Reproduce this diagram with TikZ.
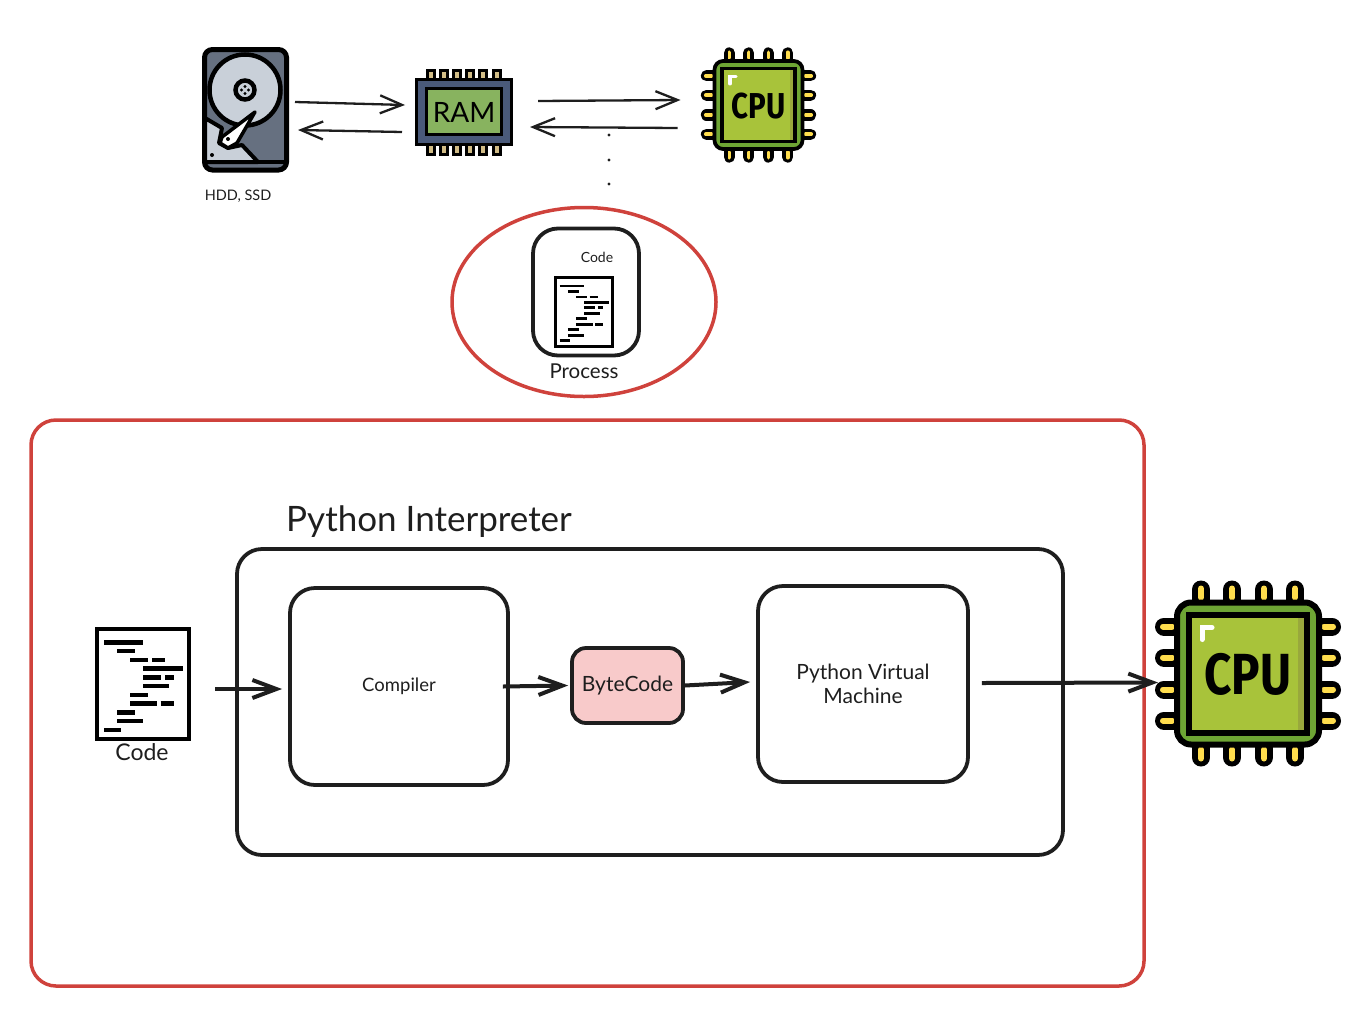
\documentclass[tikz,border=0pt]{standalone}
\usepackage{fontspec}
\usetikzlibrary{arrows.meta,shapes.geometric}
\setmainfont{Lato}
\newfontfamily\chipfont[FakeStretch=0.82]{Fira Sans}
\definecolor{redline}{HTML}{CF423C}
\definecolor{inkline}{HTML}{1E1E1E}
\definecolor{chipgreen}{HTML}{6EA534}
\definecolor{chiplime}{HTML}{A8C33A}
\definecolor{chipshade}{HTML}{99A83C}
\definecolor{chippin}{HTML}{FFDD4D}
\definecolor{diskdark}{HTML}{667080}
\definecolor{disklight}{HTML}{C9D0D9}
\definecolor{ramblue}{HTML}{4A5A7A}
\definecolor{ramgreen}{HTML}{88B35F}
\definecolor{rampin}{HTML}{D2BD87}
\definecolor{bytepink}{HTML}{F8CACA}
\tikzset{
  pics/cpuchip/.style={code={
    \begin{scope}[scale=#1, black]
    \foreach \p in {-47,-16,16,47} {
      \draw[line width=#1*18pt, line cap=round] (\p,-84) -- (\p,-70);
      \draw[line width=#1*18pt, line cap=round] (\p,84) -- (\p,70);
      \draw[line width=#1*18pt, line cap=round] (-84,\p) -- (-70,\p);
      \draw[line width=#1*18pt, line cap=round] (84,\p) -- (70,\p);
      \draw[line width=#1*6pt, line cap=round, chippin] (\p,-85) -- (\p,-76);
      \draw[line width=#1*6pt, line cap=round, chippin] (\p,85) -- (\p,76);
      \draw[line width=#1*6pt, line cap=round, chippin] (-85,\p) -- (-76,\p);
      \draw[line width=#1*6pt, line cap=round, chippin] (85,\p) -- (76,\p);
    }
    \draw[line width=#1*6pt, rounded corners=#1*14pt, fill=chipgreen] (-71,-71) rectangle (71,71);
    \draw[line width=#1*6pt, fill=chiplime] (-59,-59) rectangle (59,59);
    \fill[chipshade] (50,-56) rectangle (56,56);
    \draw[line width=#1*5pt, white, line cap=round] (-46,-34) -- (-46,-46) -- (-36,-46);
    \end{scope}
  }},
  pics/codepage/.style={code={
    \begin{scope}[scale=#1, black]
    \draw[line width=#1*4.5pt, fill=white] (-46,-55) rectangle (46,55);
    \foreach \a/\b/\c in {-39/0.3/-41.7, -26/-8.3/-33, -13/4.7/-24, 9/22.3/-24,
        0.3/39.7/-15.3, 0.3/17.7/-6.7, 22/31/-6.7, 0.3/26.3/2, -13/4.7/11,
        -13/13.7/19.7, 17.7/31/19.7, -26/-8.3/28.3, -26/0.3/37, -39/-21.7/46}
      \draw[line width=#1*4.5pt] (\a,\c) -- (\b,\c);
    \end{scope}
  }}
}
\begin{document}
\begin{tikzpicture}[x=1pt, y=-1pt, inkline,
  sketchbox/.style={draw=inkline, line width=3.8pt, rounded corners=25pt},
  redbox/.style={draw=redline, line width=3.5pt},
  thinarrow/.style={-{Straight Barb[length=22pt, width=18pt]}, line width=2.3pt},
  thickarrow/.style={-{Straight Barb[length=24pt, width=18pt]}, line width=4pt},
  iconnode/.style={inner sep=0pt, outer sep=0pt},
  hand/.style={inner sep=0pt, text=inkline, align=center}]
\useasboundingbox (0,0) rectangle (1356,1020);

% Disco
\draw[line width=5pt, rounded corners=8pt, fill=diskdark, draw=black] (204.5,49.5) rectangle (286.5,170);
\draw[line width=4.5pt, draw=black, fill=disklight] (245,90) circle (35.5);
\draw[line width=4pt, draw=black, fill=disklight, line join=round] (205,118) -- (222,128) -- (219,143) -- (228,148) -- (242,145) -- (258,162) -- (205,162) -- cycle;
\draw[line width=3.5pt, draw=black, fill=white, line join=round] (255,112) -- (222,137) -- (220,143) -- (228,148) -- (237,143) -- cycle;
\draw[line width=4.5pt, draw=black, fill=disklight] (245,90) circle (9.5);
\foreach \a in {0,90,180,270}
  \fill[black] (245,90) ++(\a:3.5) circle (1.6);
\fill[black] (228,139) circle (2);
\fill[black] (212,155) circle (2);
\draw[line width=4pt, black] (204,162) -- (287,162);
\node[iconnode, minimum width=86pt, minimum height=125pt] (disk) at (246,110) {};
\node[hand, font=\fontsize{14.5}{14.5}\selectfont] (disklabel) at (238,196) {HDD, SSD};

% RAM
\foreach \p in {431,444,457,470,483,497} {
  \draw[line width=3pt, draw=black, fill=rampin] (\p-3.5,70) rectangle (\p+3.5,80);
  \draw[line width=3pt, draw=black, fill=rampin] (\p-3.5,144) rectangle (\p+3.5,154);
}
\draw[line width=3pt, draw=black, fill=ramblue] (416.5,79.5) rectangle (511.5,144.5);
\draw[line width=3pt, draw=black, fill=ramgreen] (426.5,88.5) rectangle (501.5,134.5);
\node[iconnode, minimum width=98pt, minimum height=68pt, text=black, font=\fontsize{28}{28}\selectfont] (ram) at (464,112) {RAM};

% CPU pequena
\pic at (758.5,105) {cpuchip=0.62};
\node[iconnode, minimum size=116pt, text=black, font=\chipfont\bfseries\fontsize{36}{36}\selectfont] (cpusmall) at (758.5,106) {CPU};

% Setas de cima
\draw[thinarrow] ([shift={(6pt,8pt)}]disk.east) -- ([shift={(-10pt,7pt)}]ram.west);
\draw[thinarrow] ([shift={(-13pt,-20pt)}]ram.west) -- ([shift={(9pt,-20pt)}]disk.east);
\draw[thinarrow] ([shift={(25pt,11pt)}]ram.east) -- ([shift={(-20pt,6pt)}]cpusmall.west);
\draw[thinarrow] ([shift={(-23pt,-22pt)}]cpusmall.west) -- ([shift={(17pt,-15pt)}]ram.east);

% Pontos
\foreach \y in {135,160,184}
  \fill (609,\y) circle (1.7);

% Processo
\node[redbox, ellipse, minimum width=264pt, minimum height=189pt, inner sep=0pt] (ring) at (584,302) {};
\node[sketchbox, minimum width=106pt, minimum height=127pt, inner sep=0pt] (process) at (586,292) {};
\node[hand, font=\fontsize{14}{14}\selectfont] (smallcode) at (597,257) {Code};
\pic at (584,312) {codepage=0.625};
\node[hand, font=\fontsize{20.5}{20.5}\selectfont] (processlabel) at (584,371) {Process};

% Caixa vermelha
\node[redbox, rounded corners=25pt, minimum width=1113pt, minimum height=566pt, inner sep=0pt] (outer) at (587.5,703) {};

% Interpretador
\node[sketchbox, minimum width=826pt, minimum height=306pt, inner sep=0pt] (interpreter) at (650,702) {};
\node[hand, font=\fontsize{35}{35}\selectfont] (interplabel) at (429,522) {Python Interpreter};
\node[sketchbox, minimum width=218pt, minimum height=197pt, inner sep=0pt, font=\fontsize{18.5}{24}\selectfont] (compiler) at (399,686.5) {Compiler};
\node[sketchbox, minimum width=111pt, minimum height=75pt, inner sep=0pt, rounded corners=14pt, fill=bytepink, font=\fontsize{21}{21}\selectfont] (bytecode) at (627.5,685.5) {ByteCode};
\node[sketchbox, minimum width=210pt, minimum height=196pt, inner sep=0pt, align=center, font=\fontsize{21}{24}\selectfont] (pvm) at (863,684) {Python Virtual\\Machine};

% Codigo
\pic at (143,684) {codepage=1};
\node[iconnode, minimum width=96pt, minimum height=114pt] (codefile) at (143,684) {};
\node[hand, font=\fontsize{23}{23}\selectfont] (codelabel) at (142,752) {Code};

% CPU grande
\pic at (1248,673.5) {cpuchip=1};
\node[iconnode, minimum size=186pt, text=black, font=\chipfont\bfseries\fontsize{58}{58}\selectfont] (cpubig) at (1248,674) {CPU};

% Setas de baixo
\draw[thickarrow] ([shift={(24pt,-5pt)}]codefile.east) -- ([shift={(-6pt,-2.5pt)}]compiler.west);
\draw[thickarrow] ([shift={(-7pt,0pt)}]compiler.east) -- ([shift={(-2pt,0pt)}]bytecode.west);
\draw[thickarrow] (bytecode.east) -- ([shift={(-6pt,2pt)}]pvm.west);
\draw[thickarrow] ([shift={(12pt,1pt)}]pvm.east) -- ([shift={(3pt,-8.5pt)}]cpubig.west);
\end{tikzpicture}
\end{document}
